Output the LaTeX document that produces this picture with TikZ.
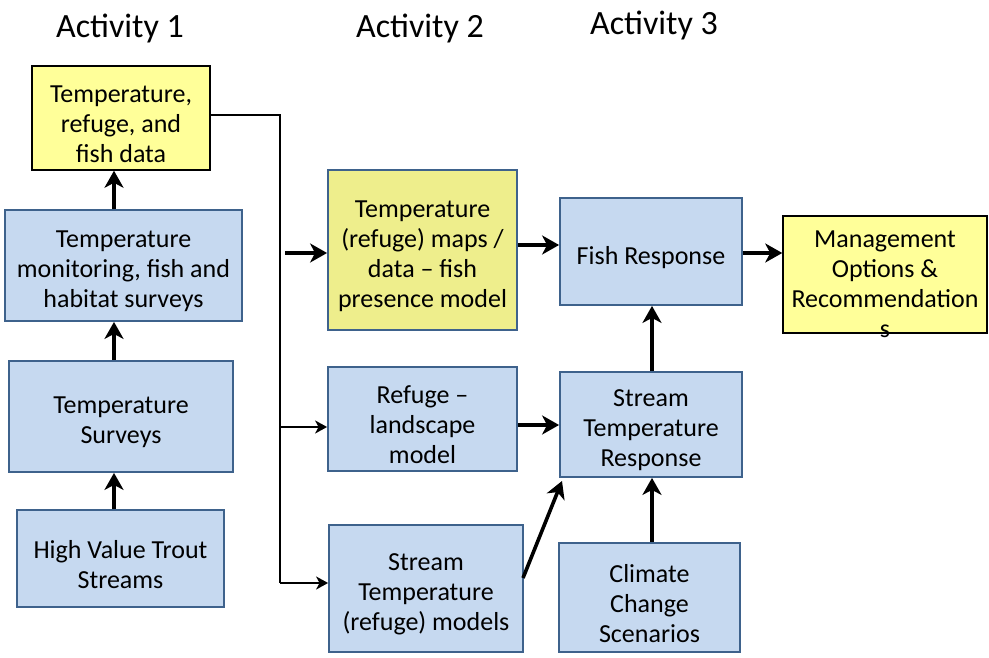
\documentclass[tikz,border=0pt]{standalone}
\usepackage{fontspec}
\setmainfont{Carlito}
\usetikzlibrary{arrows.meta}
\definecolor{bfill}{RGB}{198,217,240}
\definecolor{bdraw}{RGB}{62,98,140}
\definecolor{yfill}{RGB}{255,255,153}
\definecolor{gyfill}{RGB}{238,238,140}
\tikzset{
  box/.style={draw=bdraw, fill=bfill, line width=1.8pt, inner sep=0pt},
  ybox/.style={box, draw=black, fill=yfill, line width=1.5pt},
  gbox/.style={box, fill=gyfill},
  txt/.style={align=center, inner sep=0pt, font=\fontsize{26}{30}\selectfont},
  head/.style={font=\fontsize{34}{38}\selectfont, inner sep=0pt},
  thick arr/.style={line width=3.6pt, -{Stealth[length=17pt,width=19pt,inset=5pt]}},
  thin arr/.style={line width=2pt, -{Stealth[length=12pt,width=13pt,inset=3.5pt]}},
}
% style, name, x1, y1, x2, y2, text
\newcommand{\bx}[7]{%
  \node[#1, minimum width={(#5)-(#3)}, minimum height={(#6)-(#4)}] (#2) at ({((#3)+(#5))/2},{((#4)+(#6))/2}) {};
  \node[txt] (#2t) at ([yshift=-6pt]#2.center) {#7};
}
\begin{document}
\begin{tikzpicture}[x=1pt,y=-1pt]
\useasboundingbox (0,0) rectangle (989,658);
% headers
\node[head] (h1) at (120,28) {Activity 1};
\node[head] (h2) at (420,28) {Activity 2};
\node[head] (h3) at (654,25) {Activity 3};
% boxes
\bx{ybox}{tr}{32}{66}{210}{170}{Temperature,\\refuge, and\\fish data}
\bx{box}{tm}{5}{210}{242}{321}{Temperature\\monitoring, fish and\\habitat surveys}
\bx{box}{ts}{9}{361}{233}{472}{Temperature\\Surveys}
\bx{box}{hv}{17}{510}{224}{607}{High Value Trout\\Streams}
\bx{gbox}{trm}{328}{170}{517}{330}{Temperature\\(refuge) maps /\\data -- fish\\presence model}
\bx{box}{rl}{328}{367}{517}{471}{Refuge --\\landscape\\model}
\bx{box}{st}{329}{525}{523}{652}{Stream\\Temperature\\(refuge) models}
\bx{box}{fr}{560}{198}{742}{305}{Fish Response}
\bx{box}{str}{560}{372}{742}{477}{Stream\\Temperature\\Response}
\bx{box}{cc}{559}{543}{740}{652}{Climate\\Change\\Scenarios}
\node[ybox, minimum width=204pt, minimum height=117pt] (mo) at (885,274.5) {};
\node[txt, anchor=north] (mot) at (885,231) {Management\\Options \&\\Recommendation\\s};
% vertical chain
\coordinate (vx) at (114,0);
\draw[thick arr] (hv.north -| vx) -- (ts.south -| vx);
\draw[thick arr] (ts.north -| vx) -- (tm.south -| vx);
\draw[thick arr] (tm.north -| vx) -- (tr.south -| vx);
% distribution line
\coordinate (c1) at (280,115);
\coordinate (c2) at (280,427);
\coordinate (c3) at (280,583);
\coordinate (s0) at (285,253);
\draw[line width=2pt] (tr.east |- c1) -- (c1) -- (c3);
\draw[thin arr] (c2) -- (rl.west |- c2);
\draw[thin arr] (c3) -- (st.west |- c3);
\draw[thick arr] (s0) -- (trm.west |- s0);
% activity 2 -> 3
\coordinate (r1) at (0,245);
\coordinate (r2) at (0,253);
\coordinate (r3) at (0,425);
\draw[thick arr] (trm.east |- r1) -- (fr.west |- r1);
\draw[thick arr] (fr.east |- r2) -- (mo.west |- r2);
\draw[thick arr] (rl.east |- r3) -- (str.west |- r3);
\coordinate (d1) at (523,578);
\coordinate (d2) at (562,481);
\draw[thick arr] (d1) -- (d2);
\coordinate (vx2) at (652,0);
\draw[thick arr] (cc.north -| vx2) -- (str.south -| vx2);
\draw[thick arr] (str.north -| vx2) -- (fr.south -| vx2);
\end{tikzpicture}
\end{document}
